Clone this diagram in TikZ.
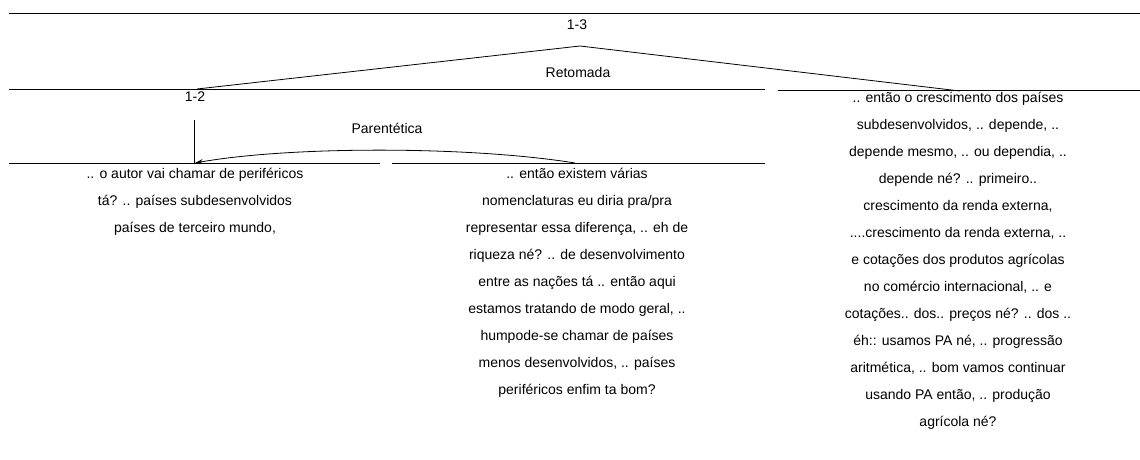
\documentclass[tikz,border=0pt]{standalone}
\usepackage{fontspec}
\setmainfont{Liberation Sans}
\usetikzlibrary{arrows.meta}
\tikzset{
  rule/.style={line width=0.8pt, black},
  lbl/.style={inner sep=0pt, font=\fontsize{14}{16}\selectfont},
  txt/.style={inner sep=0pt, align=center, anchor=north, font=\fontsize{14}{27}\selectfont},
  conn/.style={line width=0.8pt, black},
  arr/.style={line width=0.8pt, black, -{Stealth[length=8pt,width=5pt]}}
}
\begin{document}
\begin{tikzpicture}[x=1pt,y=-1pt]
\useasboundingbox (0,0) rectangle (1140,460);
% horizontal rules
\draw[rule] (9,13.5) -- (1140,13.5);
\draw[rule] (9,89) -- (765,89);
\draw[rule] (778,90) -- (1140,90);
\draw[rule] (9,163) -- (380,163);
\draw[rule] (392,163) -- (765,163);
% labels
\node[lbl] (n13) at (577,25) {1-3};
\node[lbl] (ret) at (578,72) {Retomada};
\node[lbl] (n12) at (195,97) {1-2};
\node[lbl] (par) at (387,128) {Parentética};
% coordinates
\coordinate (apex) at (580,46);
\coordinate (l12) at (197,89);
\coordinate (r13) at (960,91);
\coordinate (vtop) at (194,120);
\coordinate (tipA) at (195,163);
\coordinate (srcB) at (575,163);
% text blocks
\node[txt] (A) at (195,168) {.. o autor vai chamar de periféricos\\tá? .. países subdesenvolvidos\\países de terceiro mundo,};
\node[txt] (B) at (577,168) {.. então existem várias\\nomenclaturas eu diria pra/pra\\representar essa diferença, .. eh de\\riqueza né? .. de desenvolvimento\\entre as nações tá .. então aqui\\estamos tratando de modo geral, ..\\humpode-se chamar de países\\menos desenvolvidos, .. países\\periféricos enfim ta bom?};
\node[txt] (C) at (958,91.5) {.. então o crescimento dos países\\subdesenvolvidos, .. depende, ..\\depende mesmo, .. ou dependia, ..\\depende né? .. primeiro..\\crescimento da renda externa,\\....crescimento da renda externa, ..\\e cotações dos produtos agrícolas\\no comércio internacional, .. e\\cotações.. dos.. preços né? .. dos ..\\éh:: usamos PA né, .. progressão\\aritmética, .. bom vamos continuar\\usando PA então, .. produção\\agrícola né?};
% connectors
\draw[conn] (l12) -- (apex) -- (r13);
\draw[conn] (vtop) -- (194,163);
\draw[arr] (srcB) .. controls (470,146) and (290,146) .. (tipA);
\end{tikzpicture}
\end{document}
